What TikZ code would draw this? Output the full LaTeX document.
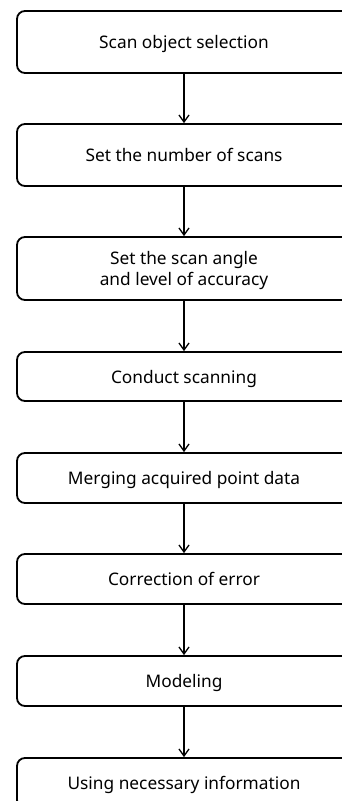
\documentclass[tikz,border=0pt]{standalone}
\usepackage{fontspec}
\setmainfont{Noto Sans}
\usetikzlibrary{arrows.meta}
\tikzset{
  stepbox/.style={draw=black, line width=1.8pt, rounded corners=8pt, fill=white,
    minimum width=334pt, inner sep=0pt, align=center, text depth=0pt,
    font=\fontsize{17.3}{21}\selectfont},
  flow/.style={line width=1.3pt, -{Straight Barb[length=7pt,width=10pt,line width=1.3pt]}}
}
\begin{document}
\begin{tikzpicture}[x=1pt,y=1pt]
\useasboundingbox (0,0) rectangle (342,-801);
\clip (0,0) rectangle (342,-801);
\node[stepbox, minimum height=62pt] (b1) at (184,-42) {Scan object selection};
\node[stepbox, minimum height=62pt] (b2) at (184,-155) {Set the number of scans};
\node[stepbox, minimum height=63pt] (b3) at (184,-268.5) {Set the scan angle\\and level of accuracy};
\node[stepbox, minimum height=49pt] (b4) at (184,-376.5) {Conduct scanning};
\node[stepbox, minimum height=50pt] (b5) at (184,-478) {Merging acquired point data};
\node[stepbox, minimum height=50pt] (b6) at (184,-579) {Correction of error};
\node[stepbox, minimum height=50pt] (b7) at (184,-681) {Modeling};
\node[stepbox, minimum height=50pt] (b8) at (184,-783) {Using necessary information};
\foreach \a/\b in {b1/b2,b2/b3,b3/b4,b4/b5,b5/b6,b6/b7,b7/b8}
  \draw[flow] (\a.south) -- (\b.north);
\end{tikzpicture}
\end{document}
